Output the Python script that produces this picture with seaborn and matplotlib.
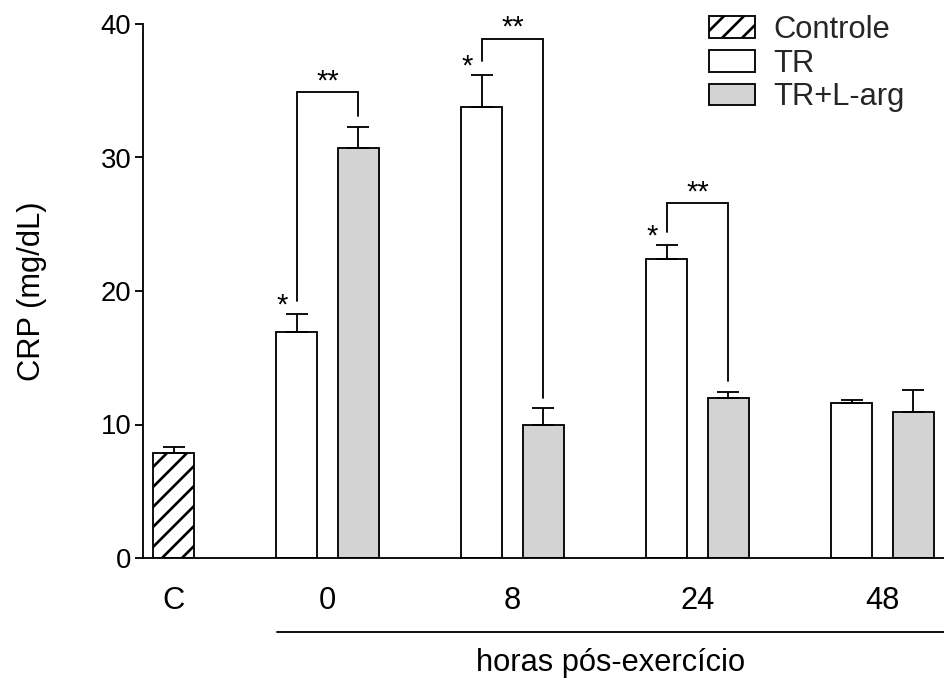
import numpy as np
import pandas as pd
import matplotlib
matplotlib.use("Agg")
import matplotlib.pyplot as plt
import matplotlib.transforms as mtransforms
from matplotlib.patches import Patch
import seaborn as sns

# ---------------- data ----------------
group_names = ["Controle", "TR", "TR+L-arg"]
control_label = "C"
control_mean = 7.9
control_sem = 0.45
time_labels = ["0", "8", "24", "48"]
tr_mean = [16.9, 33.8, 22.4, 11.6]
tr_sem = [1.35, 2.4, 1.05, 0.25]
larg_mean = [30.7, 10.0, 12.0, 10.9]
larg_sem = [1.6, 1.2, 0.45, 1.65]
# significance annotations (bracket height per time point, None = no bracket)
bracket_top = [34.9, 38.9, 26.6, None]
tr_star = [True, True, True, False]
y_ticks = [0, 10, 20, 30, 40]
xlabel_text = "horas pós-exercício"
ylabel_text = "CRP (mg/dL)"

# ---------------- style ----------------
DPI = 120
sns.set_theme(style="ticks")
plt.rcParams["font.family"] = ["Liberation Sans", "DejaVu Sans"]
plt.rcParams["hatch.linewidth"] = 1.6
plt.rcParams["hatch.color"] = "black"

colors = {"Controle": "white", "TR": "white", "TR+L-arg": "#d3d3d3"}
LW = 1.1

# slot layout: control at 0, each time point uses two adjacent slots after a gap
rows = [dict(slot=0, value=control_mean, sem=control_sem, group="Controle")]
for i, t in enumerate(time_labels):
    rows.append(dict(slot=3 * i + 2, value=tr_mean[i], sem=tr_sem[i], group="TR"))
    rows.append(dict(slot=3 * i + 3, value=larg_mean[i], sem=larg_sem[i], group="TR+L-arg"))
df = pd.DataFrame(rows)

fig = plt.figure(figsize=(944 / DPI, 682 / DPI), dpi=DPI)
ax = fig.add_axes([143 / 944, 1 - 558 / 682, (944 - 143) / 944, (558 - 24) / 682])

sns.barplot(data=df, x="slot", y="value", hue="group", hue_order=group_names,
            palette=colors, native_scale=True, dodge=False, width=0.66,
            edgecolor="black", linewidth=LW, errorbar=None, legend=False, ax=ax)

for p in ax.patches:
    cx = p.get_x() + p.get_width() / 2
    if abs(cx - 0) < 0.1:
        p.set_hatch("//")

ax.errorbar(df["slot"], df["value"], yerr=[np.zeros(len(df)), df["sem"]],
            fmt="none", ecolor="black", elinewidth=LW, capsize=6.6, capthick=LW, zorder=5)

# brackets and stars
for i in range(len(time_labels)):
    xl, xr = 3 * i + 2, 3 * i + 3
    ltop = tr_mean[i] + tr_sem[i]
    rtop = larg_mean[i] + larg_sem[i]
    if bracket_top[i] is not None:
        top = bracket_top[i]
        ax.plot([xl, xl, xr, xr], [ltop + 1.0, top, top, rtop + 0.8],
                color="black", lw=LW, solid_joinstyle="miter", clip_on=False, zorder=6)
        ax.text((xl + xr) / 2, top - 0.25, "**", ha="center", va="bottom",
                fontsize=17.5, color="black")
    if tr_star[i]:
        ax.text(xl - 0.24, ltop - 0.4, "*", ha="center", va="bottom",
                fontsize=17.5, color="black")

ax.set_xlim(-0.495, 12.5)
ax.set_ylim(0, 40)
ax.set_yticks(y_ticks)
ax.set_yticklabels([str(v) for v in y_ticks])
ax.set_xticks([0] + [3 * i + 2.5 for i in range(len(time_labels))])
ax.set_xticklabels([control_label] + time_labels)
ax.tick_params(axis="x", length=0, pad=17, labelsize=18.5, colors="black")
ax.tick_params(axis="y", length=5, width=LW, pad=2, labelsize=16.5, colors="black")
ax.set_xlabel("")
ax.set_ylabel(ylabel_text, fontsize=18.5, labelpad=32, color="black")
sns.despine(ax=ax)
for s in ["left", "bottom"]:
    ax.spines[s].set_linewidth(LW)
    ax.spines[s].set_color("black")

# underline and x-axis title for the time points
trans = mtransforms.blended_transform_factory(ax.transData, ax.transAxes)
ax.plot([1.68, 12.6], [-0.1386, -0.1386], color="black", lw=LW, transform=trans, clip_on=False)
ax.text((1.68 + 12.5) / 2, -0.197, xlabel_text, transform=trans, ha="center", va="center",
        fontsize=18.5, color="black")

handles = [Patch(facecolor=colors[g], edgecolor="black", linewidth=LW,
                 hatch="//" if g == "Controle" else None) for g in group_names]
fig.legend(handles, group_names, loc="upper left", bbox_to_anchor=(709 / 944, 1 - 15 / 682),
           frameon=False, fontsize=18.5, handlelength=1.5, handleheight=0.7,
           handletextpad=0.6, labelspacing=0.12, borderpad=0, borderaxespad=0)

fig.savefig("out.png", dpi=DPI, facecolor="white")
